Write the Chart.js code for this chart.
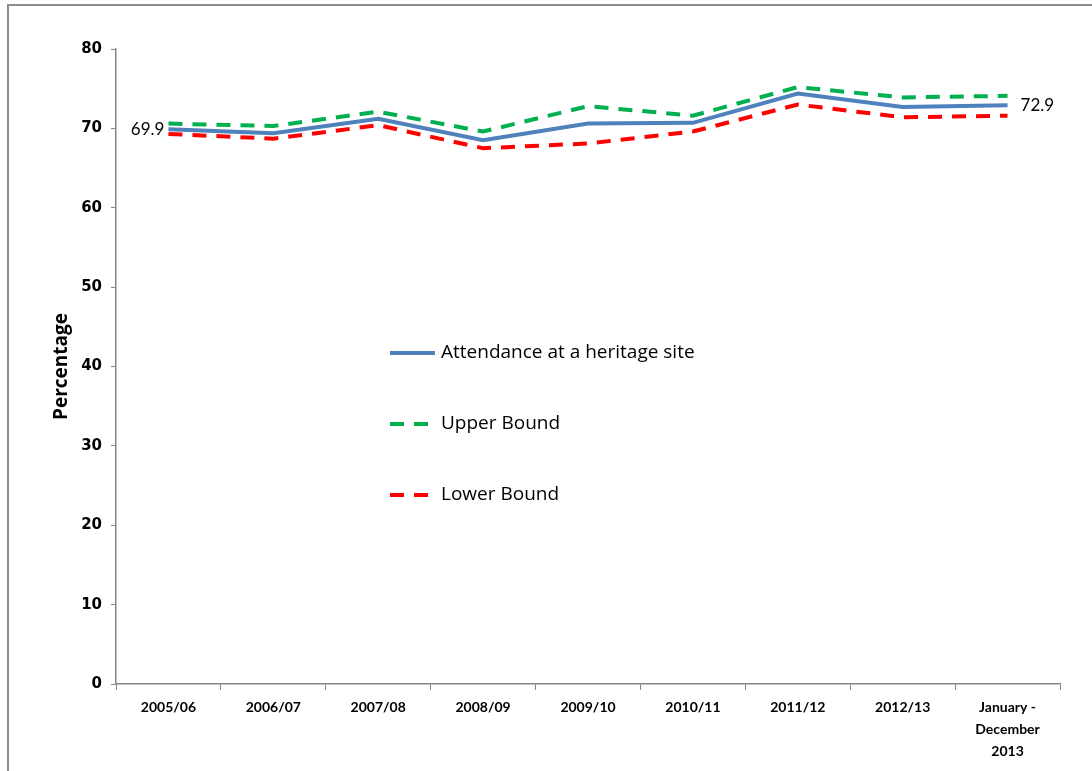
<!DOCTYPE html>
<html>
<head>
<meta charset="utf-8">
<script src="https://cdn.jsdelivr.net/npm/chart.js@4"></script>
<style>
  html, body { margin: 0; padding: 0; background: #fff; overflow: hidden; }
  #wrap { position: relative; width: 1092px; height: 771px; }
  #frame { position: absolute; left: 7px; top: 4px; width: 1100px; height: 780px; border: 2px solid #8c8c8c; box-sizing: border-box; }
  canvas { position: absolute; left: 0; top: 0; }
</style>
</head>
<body>
<div id="wrap">
  <div id="frame"></div>
  <canvas id="chart" width="1092" height="771"></canvas>
</div>
<script>
const categories = ['2005/06', '2006/07', '2007/08', '2008/09', '2009/10', '2010/11', '2011/12', '2012/13', ['January -', 'December', '2013']];
const attendance = [69.9, 69.4, 71.2, 68.5, 70.6, 70.7, 74.4, 72.7, 72.9];
const upperBound = [70.6, 70.3, 72.1, 69.6, 72.8, 71.6, 75.2, 73.9, 74.1];
const lowerBound = [69.3, 68.7, 70.4, 67.5, 68.1, 69.6, 73.0, 71.4, 71.6];
const yTicks = [0, 10, 20, 30, 40, 50, 60, 70, 80];

const AXIS_GREY = '#868686';

// legend drawn inside the plot, like the Excel original
const innerLegend = {
  id: 'innerLegend',
  afterDraw(chart) {
    const ctx = chart.ctx;
    ctx.save();
    chart.data.datasets.forEach((ds, i) => {
      const y = 353 + i * 71;
      ctx.beginPath();
      ctx.strokeStyle = ds.borderColor;
      ctx.lineWidth = ds.borderWidth;
      ctx.setLineDash(ds.borderDash || []);
      ctx.moveTo(390, y);
      ctx.lineTo(435, y);
      ctx.stroke();
      ctx.setLineDash([]);
      ctx.fillStyle = '#000';
      ctx.font = '19px "Open Sans", Lato, sans-serif';
      ctx.textBaseline = 'middle';
      ctx.textAlign = 'left';
      ctx.fillText(ds.label, 441, y);
    });
    ctx.restore();
  }
};

// first / last value labels on the main series
const endLabels = {
  id: 'endLabels',
  afterDatasetsDraw(chart) {
    const ctx = chart.ctx;
    const pts = chart.getDatasetMeta(0).data;
    const first = pts[0], last = pts[pts.length - 1];
    ctx.save();
    ctx.fillStyle = '#000';
    ctx.font = '17px Lato, "Open Sans", sans-serif';
    ctx.textBaseline = 'middle';
    ctx.textAlign = 'right';
    ctx.fillText(attendance[0].toFixed(1), first.x - 4, first.y);
    ctx.textAlign = 'left';
    ctx.fillText(attendance[attendance.length - 1].toFixed(1), last.x + 13, last.y);
    ctx.restore();
  }
};

new Chart(document.getElementById('chart'), {
  type: 'line',
  data: {
    labels: categories,
    datasets: [
      { label: 'Attendance at a heritage site', data: attendance, borderColor: '#4F81BD', borderWidth: 4 },
      { label: 'Upper Bound', data: upperBound, borderColor: '#00B050', borderWidth: 4, borderDash: [14, 10] },
      { label: 'Lower Bound', data: lowerBound, borderColor: '#FF0000', borderWidth: 4, borderDash: [14, 10] }
    ]
  },
  options: {
    responsive: false,
    animation: false,
    events: [],
    elements: { line: { tension: 0 }, point: { radius: 0 } },
    layout: { padding: { top: 49, right: 32, left: 0, bottom: 0 } },
    plugins: { legend: { display: false }, tooltip: { enabled: false } },
    scales: {
      x: {
        offset: true,
        grid: { offset: true, drawOnChartArea: false, color: AXIS_GREY, tickLength: 6 },
        border: { color: AXIS_GREY, width: 1.5 },
        ticks: {
          color: '#000',
          padding: 6,
          maxRotation: 0,
          autoSkip: false,
          font: { family: 'Lato, "Open Sans", sans-serif', size: 14, weight: 'bold', lineHeight: 1.58 }
        },
        afterFit(scale) { scale.height = 87; }
      },
      y: {
        min: 0,
        max: 80,
        afterBuildTicks(scale) { scale.ticks = yTicks.map(v => ({ value: v })); },
        grid: { drawOnChartArea: false, color: AXIS_GREY, tickLength: 5 },
        border: { color: AXIS_GREY, width: 1.5 },
        ticks: {
          color: '#000',
          padding: 9,
          font: { family: '"DejaVu Sans", Verdana, sans-serif', size: 15, weight: 'bold' }
        },
        title: {
          display: true,
          text: 'Percentage',
          color: '#000',
          padding: { top: 50, bottom: 0 },
          font: { family: '"Open Sans", Lato, sans-serif', size: 19, weight: 'bold' }
        },
        afterFit(scale) { scale.width = 116; }
      }
    }
  },
  plugins: [innerLegend, endLabels]
});
</script>
</body>
</html>
